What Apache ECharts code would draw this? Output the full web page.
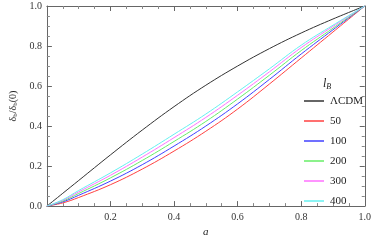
<!DOCTYPE html>
<html>
<head>
<meta charset="utf-8">
<script src="https://cdn.jsdelivr.net/npm/echarts@6/dist/echarts.min.js"></script>
<style>html,body{margin:0;padding:0;background:#fff;}#c{width:374px;height:243px;}</style>
</head>
<body>
<div id="c"></div>
<script>
const aValues = [0, 0.05, 0.1, 0.2, 0.3, 0.4, 0.5, 0.6, 0.7, 0.8, 0.9, 1.0];
const seriesNames = ['ΛCDM', '50', '100', '200', '300', '400'];
const lcdm  = [0, 0.064, 0.128, 0.256, 0.380, 0.497, 0.604, 0.700, 0.787, 0.865, 0.935, 1.0];
const lb50  = [0, 0.016, 0.043, 0.107, 0.185, 0.275, 0.374, 0.485, 0.610, 0.740, 0.870, 1.0];
const lb100 = [0, 0.021, 0.054, 0.125, 0.207, 0.300, 0.400, 0.511, 0.633, 0.760, 0.881, 1.0];
const lb200 = [0, 0.025, 0.063, 0.141, 0.228, 0.323, 0.423, 0.535, 0.654, 0.777, 0.889, 1.0];
const lb300 = [0, 0.029, 0.071, 0.154, 0.245, 0.342, 0.443, 0.554, 0.671, 0.792, 0.898, 1.0];
const lb400 = [0, 0.032, 0.078, 0.166, 0.260, 0.359, 0.460, 0.571, 0.686, 0.804, 0.904, 1.0];
const xTicks = [0.2, 0.4, 0.6, 0.8, 1.0];
const yTicks = [0.0, 0.2, 0.4, 0.6, 0.8, 1.0];

const allSeries = [lcdm, lb50, lb100, lb200, lb300, lb400];
const colors = ['#333333', '#ff4040', '#4040ff', '#66ee66', '#ff70ff', '#66f0f0'];
const serif = '"Liberation Serif", "DejaVu Serif", serif';

const chart = echarts.init(document.getElementById('c'), null, {renderer: 'canvas'});

const axisCommon = {
  type: 'value', min: 0, max: 1, interval: 0.2,
  axisLine: {show: true, onZero: false, lineStyle: {color: '#666', width: 1}},
  axisTick: {show: true, inside: true, length: 5, lineStyle: {color: '#666'}},
  minorTick: {show: true, splitNumber: 4, length: 3, lineStyle: {color: '#888'}},
  splitLine: {show: false},
  axisLabel: {show: false}
};

const option = {
  animation: false,
  color: colors,
  grid: {left: 33, right: 7, top: 6, bottom: 32, containLabel: false},
  xAxis: [
    Object.assign({}, axisCommon, {
      position: 'bottom',
      name: 'a', nameLocation: 'middle', nameGap: 16,
      nameTextStyle: {fontFamily: serif, fontStyle: 'italic', fontSize: 11, color: '#222'},
      axisLabel: {show: true, fontFamily: serif, fontSize: 10, color: '#333', margin: 6,
        formatter: v => (xTicks.some(t => Math.abs(t - v) < 1e-9) ? v.toFixed(1) : '')}
    }),
    Object.assign({}, axisCommon, {position: 'top'})
  ],
  yAxis: [
    Object.assign({}, axisCommon, {
      position: 'left',
      name: '{m|δ}{s|b}{m|/δ}{s|b}{m|(0)}', nameLocation: 'middle', nameGap: 21, nameRotate: 90,
      nameTextStyle: {fontFamily: serif, fontSize: 10, color: '#222',
        rich: {m: {fontFamily: serif, fontSize: 10, color: '#222'},
               s: {fontFamily: serif, fontSize: 7, color: '#222', verticalAlign: 'bottom', padding: [4, 0, 0, 0]}}},
      axisLabel: {show: true, fontFamily: serif, fontSize: 10, color: '#333', margin: 5,
        formatter: v => (yTicks.some(t => Math.abs(t - v) < 1e-9) ? v.toFixed(1) : '')}
    }),
    Object.assign({}, axisCommon, {position: 'right'})
  ],
  legend: {
    orient: 'vertical', left: 299, top: 88,
    icon: 'rect',
    itemWidth: 20, itemHeight: 1.5, itemGap: 4,
    textStyle: {fontFamily: serif, fontSize: 11, color: '#222', padding: [0, 0, 3, 1], lineHeight: 13},
    data: seriesNames
  },
  graphic: [{
    type: 'text', left: 323, top: 78,
    style: {
      text: '{l|l}{b|B}',
      rich: {
        l: {fontFamily: serif, fontStyle: 'italic', fontSize: 12, fill: '#222'},
        b: {fontFamily: serif, fontStyle: 'italic', fontSize: 8, fill: '#222', padding: [5, 0, 0, 0]}
      }
    }
  }],
  series: allSeries.map((vals, i) => ({
    name: seriesNames[i],
    type: 'line',
    smooth: 0.4,
    symbol: 'none',
    showSymbol: false,
    lineStyle: {width: 1, color: colors[i]},
    itemStyle: {color: colors[i]},
    data: aValues.map((a, j) => [a, vals[j]])
  }))
};
chart.setOption(option);
</script>
</body>
</html>
